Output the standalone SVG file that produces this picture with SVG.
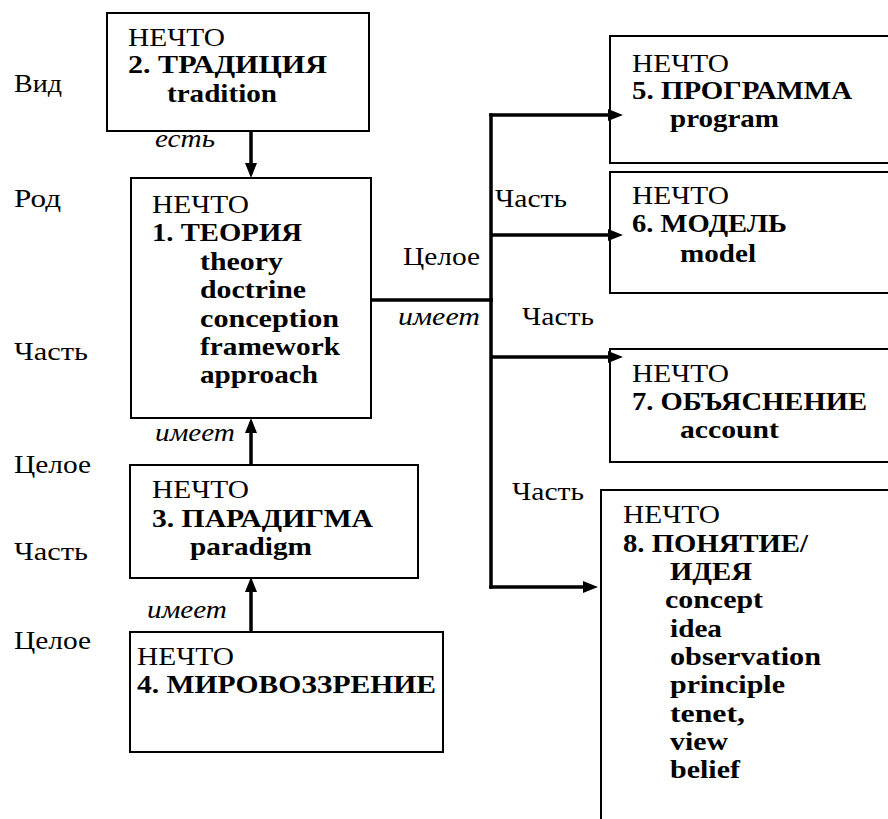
<svg xmlns="http://www.w3.org/2000/svg" width="888" height="819" viewBox="0 0 888 819" font-family="'Liberation Serif', 'DejaVu Serif', 'Times New Roman', serif">
<style>
text{font-size:25px;fill:#000}
.b{font-weight:bold}
.i{font-style:italic}
.box{fill:#fff;stroke:#000;stroke-width:2}
.con{fill:none;stroke:#000;stroke-width:3.5}
</style>
<defs>
<marker id="ah" markerUnits="userSpaceOnUse" markerWidth="16" markerHeight="13" refX="5" refY="6" orient="auto">
<path d="M0,0 L15,6 L0,12 z" fill="#000"/>
</marker>
</defs>
<rect width="888" height="819" fill="#fff"/>
<g id="labels">
<text x="14" y="92" textLength="48" lengthAdjust="spacingAndGlyphs">Вид</text>
<text x="14" y="207" textLength="47" lengthAdjust="spacingAndGlyphs">Род</text>
<text x="14" y="360" textLength="74" lengthAdjust="spacingAndGlyphs">Часть</text>
<text x="14" y="473" textLength="77" lengthAdjust="spacingAndGlyphs">Целое</text>
<text x="14" y="560" textLength="74" lengthAdjust="spacingAndGlyphs">Часть</text>
<text x="14" y="649" textLength="77" lengthAdjust="spacingAndGlyphs">Целое</text>
<text x="155" y="147" class="i" textLength="60" lengthAdjust="spacingAndGlyphs">есть</text>
<text x="155" y="441" class="i" textLength="80" lengthAdjust="spacingAndGlyphs">имеет</text>
<text x="147" y="618" class="i" textLength="80" lengthAdjust="spacingAndGlyphs">имеет</text>
<text x="403" y="265" textLength="77" lengthAdjust="spacingAndGlyphs">Целое</text>
<text x="398" y="325" class="i" textLength="82" lengthAdjust="spacingAndGlyphs">имеет</text>
<text x="495" y="207" textLength="72" lengthAdjust="spacingAndGlyphs">Часть</text>
<text x="522" y="325" textLength="72" lengthAdjust="spacingAndGlyphs">Часть</text>
<text x="512" y="500" textLength="72" lengthAdjust="spacingAndGlyphs">Часть</text>
</g>
<g id="n2">
<rect class="box" x="107" y="13" width="262" height="118"/>
<text x="128" y="46" textLength="97" lengthAdjust="spacingAndGlyphs">НЕЧТО</text>
<text x="128" y="73" class="b" textLength="199" lengthAdjust="spacingAndGlyphs">2. ТРАДИЦИЯ</text>
<text x="167" y="102" class="b" textLength="110" lengthAdjust="spacingAndGlyphs">tradition</text>
</g>
<g id="n1">
<rect class="box" x="131" y="178" width="240" height="240"/>
<text x="152" y="213" textLength="97" lengthAdjust="spacingAndGlyphs">НЕЧТО</text>
<text x="152" y="241" class="b" textLength="150" lengthAdjust="spacingAndGlyphs">1. ТЕОРИЯ</text>
<text x="200" y="270" class="b" textLength="83" lengthAdjust="spacingAndGlyphs">theory</text>
<text x="200" y="298" class="b" textLength="106" lengthAdjust="spacingAndGlyphs">doctrine</text>
<text x="200" y="327" class="b" textLength="139" lengthAdjust="spacingAndGlyphs">conception</text>
<text x="200" y="355" class="b" textLength="140" lengthAdjust="spacingAndGlyphs">framework</text>
<text x="200" y="383" class="b" textLength="118" lengthAdjust="spacingAndGlyphs">approach</text>
</g>
<g id="n3">
<rect class="box" x="130" y="465" width="288" height="113"/>
<text x="152" y="498" textLength="97" lengthAdjust="spacingAndGlyphs">НЕЧТО</text>
<text x="152" y="527" class="b" textLength="221" lengthAdjust="spacingAndGlyphs">3. ПАРАДИГМА</text>
<text x="190" y="555" class="b" textLength="122" lengthAdjust="spacingAndGlyphs">paradigm</text>
</g>
<g id="n4">
<rect class="box" x="130" y="632" width="313" height="120"/>
<text x="137" y="665" textLength="97" lengthAdjust="spacingAndGlyphs">НЕЧТО</text>
<text x="137" y="693" class="b" textLength="299" lengthAdjust="spacingAndGlyphs">4. МИРОВОЗЗРЕНИЕ</text>
</g>
<g id="n5">
<rect class="box" x="610" y="36" width="290" height="127"/>
<text x="632" y="72" textLength="97" lengthAdjust="spacingAndGlyphs">НЕЧТО</text>
<text x="632" y="99" class="b" textLength="220" lengthAdjust="spacingAndGlyphs">5. ПРОГРАММА</text>
<text x="670" y="127" class="b" textLength="109" lengthAdjust="spacingAndGlyphs">program</text>
</g>
<g id="n6">
<rect class="box" x="610" y="172" width="290" height="121"/>
<text x="632" y="204" textLength="97" lengthAdjust="spacingAndGlyphs">НЕЧТО</text>
<text x="632" y="232" class="b" textLength="155" lengthAdjust="spacingAndGlyphs">6. МОДЕЛЬ</text>
<text x="680" y="262" class="b" textLength="76" lengthAdjust="spacingAndGlyphs">model</text>
</g>
<g id="n7">
<rect class="box" x="610" y="349" width="290" height="113"/>
<text x="632" y="382" textLength="97" lengthAdjust="spacingAndGlyphs">НЕЧТО</text>
<text x="632" y="410" class="b" textLength="235" lengthAdjust="spacingAndGlyphs">7. ОБЪЯСНЕНИЕ</text>
<text x="680" y="438" class="b" textLength="99" lengthAdjust="spacingAndGlyphs">account</text>
</g>
<g id="n8">
<rect class="box" x="601" y="490" width="300" height="340"/>
<text x="623" y="523" textLength="97" lengthAdjust="spacingAndGlyphs">НЕЧТО</text>
<text x="623" y="552" class="b" textLength="185" lengthAdjust="spacingAndGlyphs">8. ПОНЯТИЕ/</text>
<text x="670" y="580" class="b" textLength="82" lengthAdjust="spacingAndGlyphs">ИДЕЯ</text>
<text x="665" y="608" class="b" textLength="98" lengthAdjust="spacingAndGlyphs">concept</text>
<text x="670" y="637" class="b" textLength="52" lengthAdjust="spacingAndGlyphs">idea</text>
<text x="670" y="665" class="b" textLength="151" lengthAdjust="spacingAndGlyphs">observation</text>
<text x="670" y="693" class="b" textLength="115" lengthAdjust="spacingAndGlyphs">principle</text>
<text x="670" y="722" class="b" textLength="75" lengthAdjust="spacingAndGlyphs">tenet,</text>
<text x="670" y="750" class="b" textLength="58" lengthAdjust="spacingAndGlyphs">view</text>
<text x="670" y="778" class="b" textLength="70" lengthAdjust="spacingAndGlyphs">belief</text>
</g>
<g id="connectors">
<path class="con" d="M251,131 V168" marker-end="url(#ah)"/>
<path class="con" d="M251,465 V428" marker-end="url(#ah)"/>
<path class="con" d="M251,632 V587" marker-end="url(#ah)"/>
<path class="con" d="M371,300 H493"/>
<path class="con" d="M491,113.25 V588.75"/>
<path class="con" d="M489.25,115 H613" marker-end="url(#ah)"/>
<path class="con" d="M491,235 H613" marker-end="url(#ah)"/>
<path class="con" d="M491,357 H613" marker-end="url(#ah)"/>
<path class="con" d="M489.25,587 H588" marker-end="url(#ah)"/>
</g>
</svg>
